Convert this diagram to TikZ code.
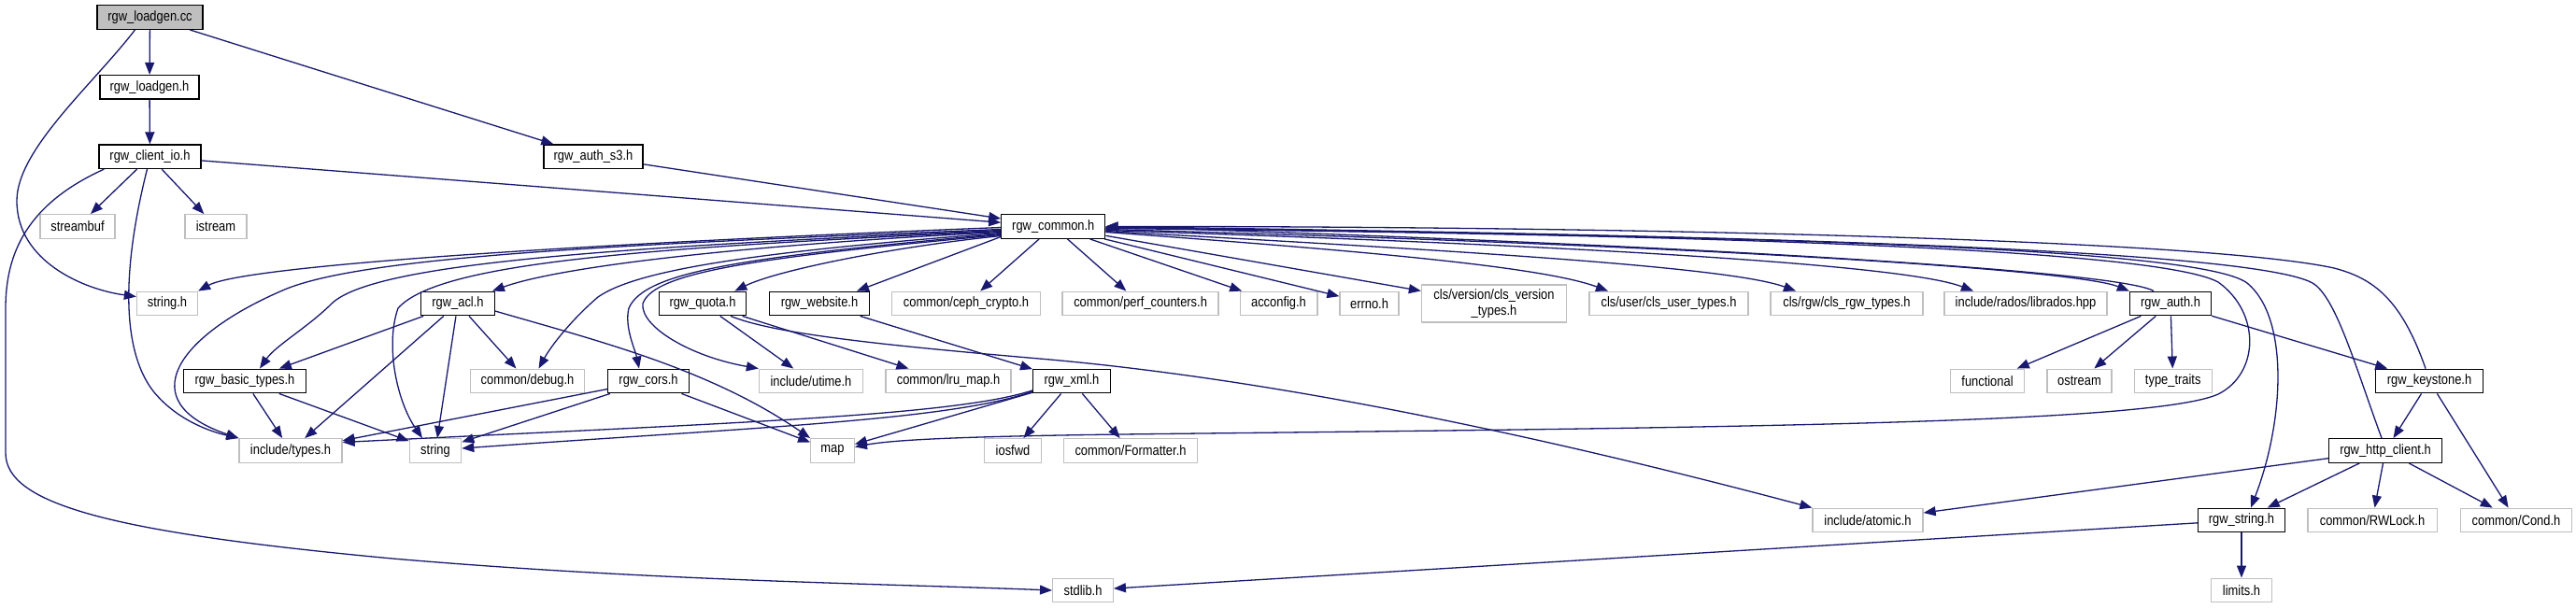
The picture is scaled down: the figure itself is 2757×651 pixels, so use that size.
\documentclass[tikz,border=0pt]{standalone}
\usepackage{fontspec}
\newfontfamily\dxfont{Liberation Sans}[FakeStretch=0.86]
\usetikzlibrary{arrows.meta}
\definecolor{edgecol}{HTML}{191970}
\definecolor{sysgray}{HTML}{BFBFBF}
\definecolor{rootfill}{HTML}{BFBFBF}
\begin{document}
\begin{tikzpicture}[x=1pt,y=-1pt,
 nb/.style={rectangle, inner sep=0pt, minimum height=25.6pt, font=\dxfont\fontsize{15}{16.5}\selectfont, text=black, fill=white},
 hdr/.style={nb, draw=black, line width=1.25pt},
 sys/.style={nb, draw=sysgray, line width=1.3pt},
 rootn/.style={nb, draw=black, line width=1.25pt, fill=rootfill},
 edge/.style={draw=edgecol, line width=1.3pt, -{Triangle[length=13pt,width=10pt]}}]
\fill[white] (0,0) rectangle (2757,651);
\useasboundingbox (0,0) rectangle (2757,651);

\node[rootn, minimum width=113pt] (root) at (160.5,18.5) {rgw\_loadgen.cc};
\node[hdr, minimum width=106pt] (lgh) at (160,93.3) {rgw\_loadgen.h};
\node[hdr, minimum width=109pt] (cio) at (160.5,167.7) {rgw\_client\_io.h};
\node[hdr, minimum width=106pt] (as3) at (635,167.7) {rgw\_auth\_s3.h};
\node[sys, minimum width=80pt] (sbuf) at (83,242.5) {streambuf};
\node[sys, minimum width=66pt] (istr) at (231,242.5) {istream};
\node[hdr, minimum width=111pt] (common) at (1127.3,242.5) {rgw\_common.h};
\node[sys, minimum width=65pt] (strh) at (179,325) {string.h};
\node[hdr, minimum width=78.5pt] (acl) at (490,325) {rgw\_acl.h};
\node[hdr, minimum width=93.5pt] (quota) at (752,325) {rgw\_quota.h};
\node[hdr, minimum width=107pt] (web) at (877,325) {rgw\_website.h};
\node[sys, minimum width=158.5pt] (crypto) at (1034,325) {common/ceph\_crypto.h};
\node[sys, minimum width=167pt] (perf) at (1220.6,325) {common/perf\_counters.h};
\node[sys, minimum width=82.7pt] (accf) at (1368.5,325) {acconfig.h};
\node[sys, minimum width=63pt] (errno) at (1465.5,325) {errno.h};
\node[sys, minimum width=155pt, minimum height=40pt, align=center] (clsv) at (1599,325) {cls/version/cls\_version\\\_types.h};
\node[sys, minimum width=170pt] (clsu) at (1786,325) {cls/user/cls\_user\_types.h};
\node[sys, minimum width=163pt] (clsr) at (1976.5,325) {cls/rgw/cls\_rgw\_types.h};
\node[sys, minimum width=174pt] (rados) at (2168,325) {include/rados/librados.hpp};
\node[hdr, minimum width=87pt] (auth) at (2323,325) {rgw\_auth.h};
\node[hdr, minimum width=130.6pt] (basic) at (262,408) {rgw\_basic\_types.h};
\node[sys, minimum width=122pt] (debug) at (564.5,408) {common/debug.h};
\node[hdr, minimum width=86.5pt] (cors) at (694,408) {rgw\_cors.h};
\node[sys, minimum width=111pt] (utime) at (868,408) {include/utime.h};
\node[sys, minimum width=134pt] (lru) at (1015,408) {common/lru\_map.h};
\node[hdr, minimum width=82.7pt] (xml) at (1147,408) {rgw\_xml.h};
\node[sys, minimum width=79pt] (func) at (2127,408) {functional};
\node[sys, minimum width=69pt] (ostr) at (2225.5,408) {ostream};
\node[sys, minimum width=83pt] (ttr) at (2325.7,408) {type\_traits};
\node[hdr, minimum width=114.5pt] (keys) at (2600,408) {rgw\_keystone.h};
\node[sys, minimum width=110pt] (types) at (311,482.5) {include/types.h};
\node[sys, minimum width=55.4pt] (str) at (466,482.5) {string};
\node[sys, minimum width=46.5pt] (map) at (891,482.5) {map};
\node[sys, minimum width=60.6pt] (iosfwd) at (1084,482.5) {iosfwd};
\node[sys, minimum width=142.5pt] (fmt) at (1210,482.5) {common/Formatter.h};
\node[hdr, minimum width=120.7pt] (http) at (2553,482.5) {rgw\_http\_client.h};
\node[sys, minimum width=118pt] (atomic) at (1999,557) {include/atomic.h};
\node[hdr, minimum width=93pt] (rstr) at (2399,557) {rgw\_string.h};
\node[sys, minimum width=138.3pt] (rwl) at (2539,557) {common/RWLock.h};
\node[sys, minimum width=118.5pt] (cond) at (2693,557) {common/Cond.h};
\node[sys, minimum width=64.6pt] (stdlib) at (1159,632) {stdlib.h};
\node[sys, minimum width=64.5pt] (limits) at (2399,632) {limits.h};

% straight edges
\draw[edge] (root) -- (lgh);
\draw[edge] (root) -- (as3);
\draw[edge] (lgh) -- (cio);
\draw[edge] (cio) -- (sbuf);
\draw[edge] (cio) -- (istr);
\draw[edge] (cio) -- (common);
\draw[edge] (as3) -- (common);
\draw[edge] (common) -- (crypto);
\draw[edge] (common) -- (perf);
\draw[edge] (common) -- (accf);
\draw[edge] (common) -- (errno);
\draw[edge] (common) -- (clsv);
\draw[edge] (acl) -- (basic);
\draw[edge] (acl) -- (types);
\draw[edge] (acl) -- (str);
\draw[edge] (acl) -- (debug);
\draw[edge] (basic) -- (types);
\draw[edge] (basic) -- (str);
\draw[edge] (cors) -- (types);
\draw[edge] (cors) -- (str);
\draw[edge] (cors) -- (map);
\draw[edge] (quota) -- (utime);
\draw[edge] (quota) -- (lru);
\draw[edge] (web) -- (xml);
\draw[edge] (xml) -- (map);
\draw[edge] (xml) -- (iosfwd);
\draw[edge] (xml) -- (fmt);
\draw[edge] (auth) -- (func);
\draw[edge] (auth) -- (ostr);
\draw[edge] (auth) -- (ttr);
\draw[edge] (auth) -- (keys);
\draw[edge] (keys) -- (http);
\draw[edge] (keys) -- (cond);
\draw[edge] (http) -- (atomic);
\draw[edge] (http) -- (rstr);
\draw[edge] (http) -- (rwl);
\draw[edge] (http) -- (cond);
\draw[edge] (rstr) -- (stdlib);
\draw[edge] (rstr) -- (limits);

% curved edges, left part
\draw[edge] ([xshift=-16pt]root.south) .. controls (100,90) and (18,160) .. (18,215) .. controls (18,280) and (90,310) .. ([yshift=-6pt]strh.north west);
\draw[edge] ([xshift=-3pt]cio.south) .. controls (135,270) and (125,370) .. (165,420) .. controls (190,450) and (225,462) .. (types.north west);
\draw[edge] ([xshift=6pt]cio.south west) .. controls (30,218) and (6,270) .. (6,330) -- (6,485) .. controls (6,540) and (120,570) .. (420,598) .. controls (700,622) and (950,625) .. (stdlib.west);

% rgw_common.h fan to the left
\draw[edge] ([yshift=-1pt]common.west) .. controls (600,262) and (260,285) .. (strh.north east);
\draw[edge] ([yshift=-3pt]common.west) .. controls (650,262) and (380,275) .. (300,312) .. controls (190,360) and (140,430) .. (types.north west);
\draw[edge] ([yshift=-4pt]common.west) .. controls (650,265) and (400,282) .. (355,325) .. controls (330,350) and (295,370) .. ([xshift=16pt]basic.north);
\draw[edge] ([yshift=-5pt]common.west) .. controls (700,265) and (470,280) .. (426,330) .. controls (412,370) and (425,430) .. ([xshift=-14pt]str.north);
\draw[edge] ([yshift=-6pt]common.west) .. controls (800,262) and (600,285) .. ([xshift=-3pt]acl.north east);
\draw[edge] ([yshift=-7pt]common.west) .. controls (800,270) and (680,290) .. (640,318) .. controls (612,342) and (590,370) .. ([xshift=12pt]debug.north);
\draw[edge] ([yshift=-8pt]common.west) .. controls (800,275) and (690,290) .. (673,330) .. controls (668,350) and (680,375) .. ([xshift=-10pt]cors.north);
\draw[edge] ([yshift=-9pt]common.west) .. controls (820,275) and (700,290) .. (688,325) .. controls (685,350) and (740,382) .. (utime.north west);
\draw[edge] ([yshift=-10pt]common.west) .. controls (950,265) and (830,290) .. ([xshift=-13pt]quota.north east);
\draw[edge] ([yshift=-11pt]common.west) -- ([xshift=40pt]web.north);

% rgw_common.h fan to the right
\draw[edge] ([yshift=-6pt]common.east) .. controls (1450,268) and (1650,285) .. ([xshift=-65pt]clsu.north);
\draw[edge] ([yshift=-5pt]common.east) .. controls (1550,268) and (1850,285) .. ([xshift=-54.5pt]clsr.north);
\draw[edge] ([yshift=-4pt]common.east) .. controls (1600,260) and (2030,280) .. ([xshift=-56pt]rados.north);
\draw[edge] ([yshift=-3pt]common.east) .. controls (1800,262) and (2220,288) .. (auth.north west);
\draw[edge] ([xshift=-18pt]auth.north) .. controls (2270,290) and (1800,262) .. (common.east);
\draw[edge] ([xshift=-4pt]http.north) .. controls (2520,390) and (2500,318) .. (2475,303) .. controls (2400,262) and (1700,250) .. (common.east);
\draw[edge] ([xshift=-4pt]keys.north) .. controls (2570,320) and (2540,298) .. (2498,287) .. controls (2350,255) and (1700,242) .. (common.east);
\draw[edge] ([yshift=-2pt]common.east) .. controls (1700,250) and (2300,262) .. (2374,302) .. controls (2420,335) and (2418,400) .. (2374,422) .. controls (2300,455) and (1800,458) .. (1200,465) .. controls (1050,467) and (960,470) .. ([yshift=4pt]map.east);
\draw[edge] ([yshift=-1pt]common.east) .. controls (1800,252) and (2350,262) .. (2405,303) .. controls (2450,340) and (2445,450) .. ([xshift=10pt]rstr.north);

% other curves
\draw[edge] ([yshift=-8pt]acl.east) .. controls (640,365) and (760,395) .. (map.north west);
\draw[edge] ([xshift=30pt]quota.south) .. controls (830,358) and (950,370) .. (1124,385) .. controls (1400,410) and (1700,480) .. (atomic.north west);
\draw[edge] ([yshift=-10pt]xml.west) .. controls (1020,445) and (800,452) .. ([yshift=9pt]types.east);
\draw[edge] ([yshift=-11pt]xml.west) .. controls (1020,450) and (800,458) .. ([yshift=2.5pt]str.east);
\end{tikzpicture}
\end{document}
